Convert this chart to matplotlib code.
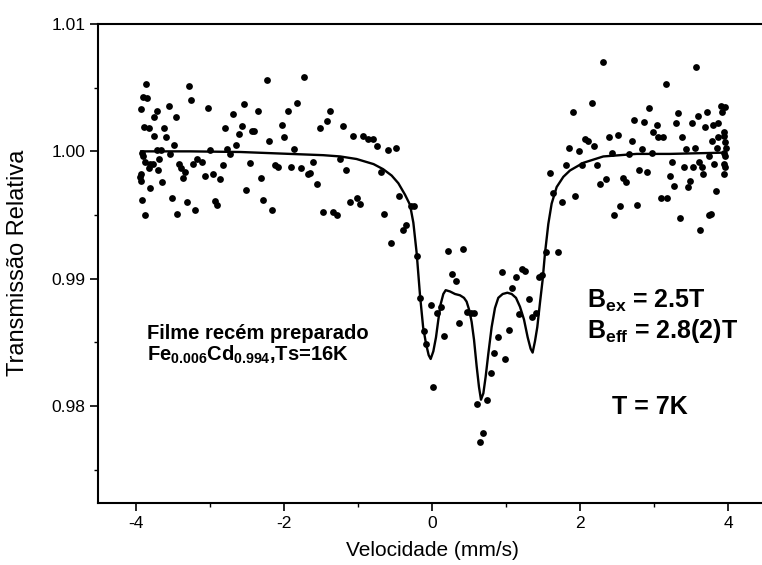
import matplotlib
matplotlib.use("Agg")
import matplotlib.pyplot as plt
from matplotlib.ticker import MultipleLocator

# Measured Mössbauer spectrum (velocity in mm/s, relative transmission)
velocity = [
    -3.865, -3.284, -2.230, -1.730, -3.901, -3.847, -3.257, -3.550, -3.027, -2.541,
    -2.347, -1.941, -1.820, -1.383, -3.928, -3.716, -3.757, -3.459, -2.685, -1.423,
    -2.032, -2.572, -3.887, -3.829, -3.622, -2.802, -2.428, -2.401, -2.613, -1.995,
    -1.518, -1.203, -1.063, -0.928, -0.860, -0.793, -0.739, -0.590, -0.491, -3.752,
    -3.590, -3.486, -3.721, -3.662, -2.649, -2.775, -3.000, -2.198, -1.865, -2.730,
    -3.919, -3.901, -3.878, -3.811, -3.775, -3.824, -3.685, -3.541, -3.419, -3.396,
    -3.342, -3.180, -3.234, -3.113, -2.829, -2.459, -2.122, -2.086, -1.905, -1.775,
    -1.604, -1.671, -1.649, -1.243, -1.158, -0.689, -3.932, -3.946, -3.932, -3.698,
    -3.653, -3.360, -3.068, -2.964, -2.865, -2.315, -2.509, -1.554, -3.806, -3.923,
    -3.514, -3.315, -2.932, -2.910, -2.279, -1.108, -1.018, -0.973, -0.450, -3.878,
    -3.441, -3.207, -2.158, -1.477, -1.333, -1.288, -0.649, -0.284, -0.239, -0.356,
    -0.396, -0.550, -0.203,
    -0.162, -0.108, -0.081, -0.018, 0.018, 0.072, 0.117, 0.167, 0.221, 0.414,
    0.270, 0.320, 0.360, 0.468, 0.523, 0.568, 0.604, 0.748, 0.694, 0.649,
    0.793, 0.838, 0.892, 0.986, 1.036, 0.946, 1.081, 1.135, 1.221, 1.257,
    1.180, 1.311, 1.356, 1.401, 1.441, 1.486,
    2.315, 3.572, 3.158, 2.158, 1.901, 2.937, 3.910, 3.959, 3.324, 3.712,
    3.599, 3.914, 2.734, 2.869, 3.036, 3.297, 3.509, 3.802, 3.869, 3.689,
    2.509, 2.392, 2.068, 2.113, 2.189, 2.703, 2.991, 3.059, 3.126, 3.378,
    3.779, 3.950, 3.950, 3.959, 3.973, 3.946, 3.959, 3.946, 3.959, 3.946,
    3.869, 3.847, 1.856, 1.991, 2.432, 2.662, 2.833, 2.973, 3.428, 3.550,
    3.748, 1.811, 2.234, 2.023, 3.239, 3.613, 3.401, 3.532, 3.649, 3.811,
    2.802, 2.901, 1.590, 3.216, 3.667, 2.270, 2.351, 2.577, 2.622, 3.486,
    3.455, 3.270, 1.635, 1.937, 1.761, 3.838, 3.090, 3.180, 2.541, 2.766,
    2.464, 3.351, 3.739, 3.770, 3.626, 1.541, 1.707,
]
transmission = [
    1.0053, 1.0051, 1.0056, 1.0058, 1.0043, 1.0042, 1.0040, 1.0036, 1.0034, 1.0037,
    1.0032, 1.0032, 1.0038, 1.0032, 1.0033, 1.0032, 1.0027, 1.0027, 1.0029, 1.0024,
    1.0021, 1.0020, 1.0019, 1.0018, 1.0018, 1.0018, 1.0016, 1.0016, 1.0014, 1.0011,
    1.0018, 1.0020, 1.0012, 1.0012, 1.0010, 1.0010, 1.0004, 1.0001, 1.0003, 1.0012,
    1.0011, 1.0005, 1.0001, 1.0001, 1.0005, 1.0002, 1.0001, 1.0008, 1.0002, 0.9998,
    0.9999, 0.9996, 0.9992, 0.9990, 0.9990, 0.9987, 0.9994, 0.9998, 0.9990, 0.9987,
    0.9984, 0.9994, 0.9990, 0.9992, 0.9989, 0.9991, 0.9989, 0.9988, 0.9988, 0.9987,
    0.9992, 0.9982, 0.9983, 0.9994, 0.9985, 0.9984, 0.9982, 0.9980, 0.9977, 0.9985,
    0.9976, 0.9979, 0.9981, 0.9982, 0.9978, 0.9979, 0.9970, 0.9974, 0.9971, 0.9962,
    0.9963, 0.9960, 0.9961, 0.9958, 0.9962, 0.9960, 0.9963, 0.9959, 0.9965, 0.9950,
    0.9951, 0.9954, 0.9954, 0.9952, 0.9952, 0.9950, 0.9951, 0.9957, 0.9957, 0.9942,
    0.9938, 0.9928, 0.9918,
    0.9885, 0.9859, 0.9849, 0.9879, 0.9815, 0.9873, 0.9878, 0.9855, 0.9922, 0.9923,
    0.9904, 0.9898, 0.9865, 0.9874, 0.9873, 0.9873, 0.9802, 0.9805, 0.9779, 0.9772,
    0.9826, 0.9842, 0.9854, 0.9837, 0.9860, 0.9905, 0.9893, 0.9901, 0.9908, 0.9906,
    0.9872, 0.9884, 0.9870, 0.9873, 0.9901, 0.9903,
    1.0070, 1.0066, 1.0053, 1.0038, 1.0031, 1.0034, 1.0036, 1.0035, 1.0030, 1.0031,
    1.0028, 1.0031, 1.0025, 1.0023, 1.0021, 1.0022, 1.0022, 1.0021, 1.0022, 1.0019,
    1.0013, 1.0011, 1.0010, 1.0008, 1.0004, 1.0008, 1.0015, 1.0011, 1.0011, 1.0011,
    1.0008, 1.0015, 1.0012, 1.0007, 1.0003, 0.9999, 0.9996, 0.9990, 0.9988, 0.9982,
    1.0011, 1.0003, 1.0003, 1.0000, 0.9999, 0.9998, 1.0002, 0.9999, 1.0002, 1.0003,
    0.9996, 0.9989, 0.9989, 0.9989, 0.9992, 0.9992, 0.9988, 0.9988, 0.9988, 0.9990,
    0.9985, 0.9984, 0.9983, 0.9981, 0.9982, 0.9974, 0.9978, 0.9979, 0.9976, 0.9977,
    0.9972, 0.9973, 0.9967, 0.9965, 0.9960, 0.9969, 0.9963, 0.9963, 0.9957, 0.9958,
    0.9950, 0.9948, 0.9950, 0.9951, 0.9938, 0.9921, 0.9921,
]

# Fitted spectrum
fit_velocity = [
    -3.93, -3.27, -2.59, -1.92, -1.47, -1.24, -1.02, -0.79, -0.66, -0.545,
    -0.455, -0.365, -0.297, -0.252, -0.207, -0.162, -0.120, -0.081, -0.045, -0.018,
    0.018, 0.054, 0.086, 0.117, 0.153, 0.185, 0.243, 0.311, 0.378, 0.432,
    0.468, 0.505, 0.536, 0.568, 0.604, 0.635, 0.662, 0.694, 0.725, 0.761,
    0.806, 0.851, 0.896, 0.955, 1.018, 1.077, 1.135, 1.189, 1.243, 1.293,
    1.333, 1.360, 1.392, 1.423, 1.459, 1.495, 1.527, 1.572, 1.617, 1.685,
    1.775, 1.865, 2.045, 2.315, 2.766, 3.216, 3.95,
]
fit_transmission = [
    1.0000, 1.0000, 0.99995, 0.9998, 0.9997, 0.9996, 0.9994, 0.9990, 0.9986, 0.9981,
    0.9975, 0.9966, 0.9958, 0.9944, 0.9920, 0.9887, 0.9862, 0.9849, 0.9840, 0.9837,
    0.9843, 0.9854, 0.9868, 0.9880, 0.9888, 0.9891, 0.9890, 0.9888, 0.9887, 0.9885,
    0.9882, 0.9875, 0.9866, 0.9852, 0.9831, 0.9815, 0.9805, 0.9810, 0.9823, 0.9841,
    0.9862, 0.9877, 0.9885, 0.9888, 0.9889, 0.9888, 0.9885, 0.9878, 0.9868, 0.9854,
    0.9845, 0.9842, 0.9851, 0.9862, 0.9881, 0.9899, 0.9920, 0.9943, 0.9959, 0.9972,
    0.9980, 0.9985, 0.9991, 0.9996, 0.9998, 0.9998, 0.9999,
]

x_ticks = [-4, -2, 0, 2, 4]
y_ticks = [0.98, 0.99, 1.00, 1.01]

plt.rcParams['font.family'] = ['Liberation Sans', 'DejaVu Sans']
plt.rcParams['mathtext.fontset'] = 'custom'
plt.rcParams['mathtext.rm'] = 'Liberation Sans:bold'
plt.rcParams['mathtext.it'] = 'Liberation Sans:bold'
plt.rcParams['mathtext.bf'] = 'Liberation Sans:bold'

fig = plt.figure(figsize=(7.62, 5.65), dpi=100)
ax = fig.add_axes([98 / 762, 1 - 503 / 565, 668 / 762, 479 / 565])

ax.plot(velocity, transmission, 'o', color='black', markersize=4.9,
        markeredgewidth=0, zorder=3)
ax.plot(fit_velocity, fit_transmission, '-', color='black', linewidth=1.7,
        zorder=2)

ax.set_xlim(-4.514, 4.514)
ax.set_ylim(0.97239, 1.01)
ax.set_xticks(x_ticks)
ax.set_xticklabels([f"{t:d}" for t in x_ticks])
ax.set_yticks(y_ticks)
ax.set_yticklabels([f"{t:.2f}" for t in y_ticks])
ax.xaxis.set_minor_locator(MultipleLocator(1))
ax.yaxis.set_minor_locator(MultipleLocator(0.005))
ax.tick_params(which='major', direction='out', length=6, width=1.2,
               labelsize=12.5, pad=3, top=False, right=False)
ax.tick_params(which='minor', direction='out', length=3, width=1.0,
               top=False, right=False)
for side in ax.spines.values():
    side.set_linewidth(1.5)

fig.text(432 / 762, 1 - 550 / 565, 'Velocidade (mm/s)', ha='center',
         va='center', fontsize=15)
fig.text(18 / 762, 1 - 263 / 565, 'Transmissão Relativa', ha='center',
         va='center', rotation=90, fontsize=17)

bold = dict(fontweight='bold', color='black', va='baseline', ha='left')
ax.text(-3.851, 0.98525, 'Filme recém preparado', fontsize=14.5, **bold)
ax.text(-3.851, 0.98355, r'Fe$_{0.006}$Cd$_{0.994}$,Ts=16K', fontsize=14.5, **bold)
ax.text(2.095, 0.98769, r'B$_{\rm ex}$ = 2.5T', fontsize=18, **bold)
ax.text(2.095, 0.98533, r'B$_{\rm eff}$ = 2.8(2)T', fontsize=18, **bold)
ax.text(2.432, 0.97937, 'T = 7K', fontsize=18, **bold)

fig.savefig('out.png', dpi=100)
